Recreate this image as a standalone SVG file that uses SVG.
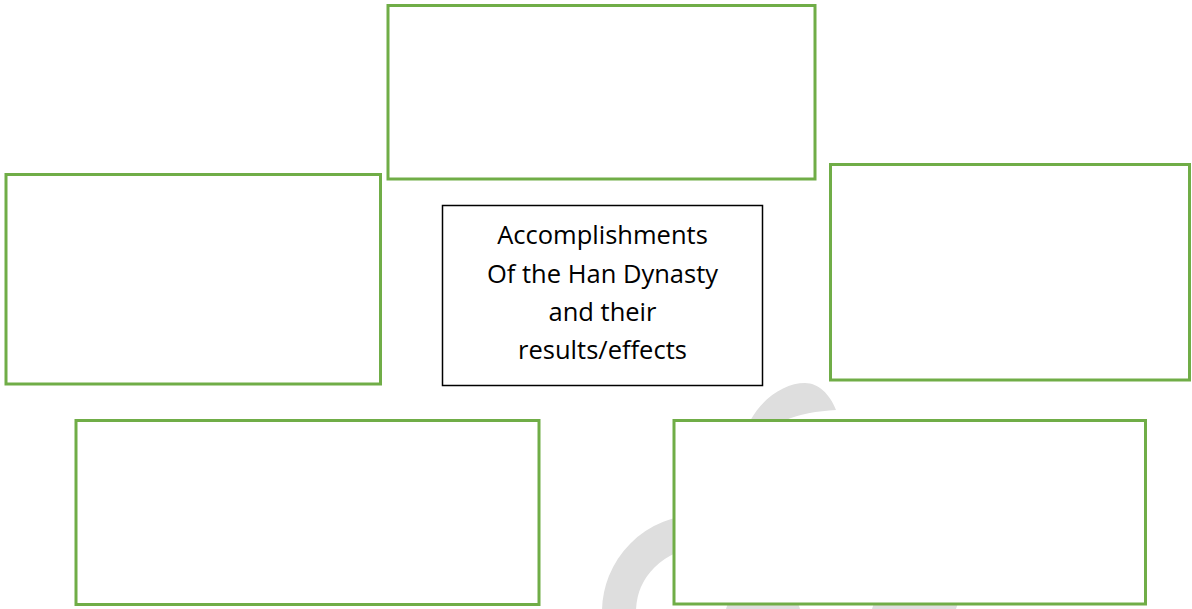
<svg xmlns="http://www.w3.org/2000/svg" width="1192" height="609" viewBox="0 0 1192 609">
<style>
.g{fill:#fff;stroke:#70AD47;stroke-width:3}
.c{fill:#fff;stroke:#000;stroke-width:1.5}
.t{font-family:"Open Sans","Liberation Sans",sans-serif;font-size:25.5px;fill:#000;text-anchor:middle}
.wm{fill:#DEDEDE}
</style>
<rect width="1192" height="609" fill="#fff"/>
<g id="watermark">
<path class="wm" d="M750 421 C764 396 786 383 805 383 C818 383 830 394 836 410 C818 411 798 414 784 421 Z"/>
<path d="M619 612 A80 80 0 0 1 699 532" fill="none" stroke="#DEDEDE" stroke-width="34"/>
<path class="wm" d="M728 603 L798 603 L800 609 L726 609 Z"/>
<path class="wm" d="M874 603 L958 603 L956 609 L872 609 Z"/>
</g>
<g id="node-top"><rect class="g" x="388" y="5.5" width="427" height="173.5"/></g>
<g id="node-left"><rect class="g" x="6" y="174.5" width="374.5" height="209.5"/></g>
<g id="node-right"><rect class="g" x="830.5" y="164.5" width="359" height="215.5"/></g>
<g id="node-bottom-left"><rect class="g" x="76" y="420.5" width="463" height="184"/></g>
<g id="node-bottom-right"><rect class="g" x="674" y="420.5" width="471.5" height="183.5"/></g>
<g id="node-center">
<rect class="c" x="442.5" y="205.5" width="320" height="180"/>
<text class="t" x="602.5" y="244.3">Accomplishments</text>
<text class="t" x="602.5" y="282.7">Of the Han Dynasty</text>
<text class="t" x="602.5" y="321">and their</text>
<text class="t" x="602.5" y="359.3">results/effects</text>
</g>
<g id="connectors"></g>
</svg>
